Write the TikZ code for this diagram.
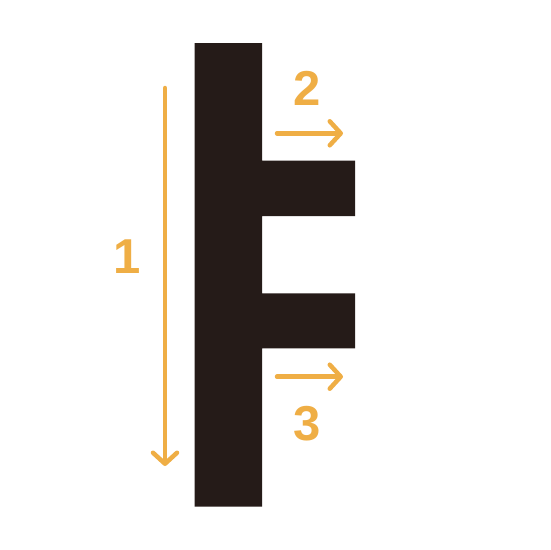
\documentclass[tikz,border=0pt]{standalone}
\usepackage{fontspec}
\setsansfont{Liberation Sans}
\usepackage{xcolor}
\usetikzlibrary{positioning, arrows.meta}
\definecolor{strokeorange}{HTML}{EFAE45}
\definecolor{glyphdark}{HTML}{251B18}

\begin{document}
\begin{tikzpicture}[x=1pt, y=-1pt,
    order/.style={draw=strokeorange, line width=4.5pt, line cap=round,
      -{Straight Barb[length=11pt, width=24pt, line cap=round, line join=round]}},
    num/.style={text=strokeorange, inner sep=0pt,
      font=\sffamily\bfseries\fontsize{49}{49}\selectfont}]
      \useasboundingbox[fill=white] (0,0) rectangle (550,550);

      % Glyph
      \fill[glyphdark] (194.5,43) -- (262,43) -- (262,160.7) -- (355,160.7)
        -- (355,216) -- (262,216) -- (262,293.3) -- (355,293.3)
        -- (355,348.3) -- (262,348.3) -- (262,506.5) -- (194.5,506.5) -- cycle;

      % Stroke 1
      \coordinate (s1a) at (165,88);
      \coordinate (s1b) at (165,466);
      \draw[order] (s1a) -- (s1b);
      \node[num] (n1) at (127,257) {1};

      % Stroke 2
      \coordinate (s2a) at (277,133.3);
      \coordinate (s2b) at (343,133.3);
      \draw[order] (s2a) -- (s2b);
      \node[num] (n2) at (307,88.5) {2};

      % Stroke 3
      \coordinate (s3a) at (277,376.7);
      \coordinate (s3b) at (343,376.7);
      \draw[order] (s3a) -- (s3b);
      \node[num] (n3) at (307,423.5) {3};
    \end{tikzpicture}
\end{document}
